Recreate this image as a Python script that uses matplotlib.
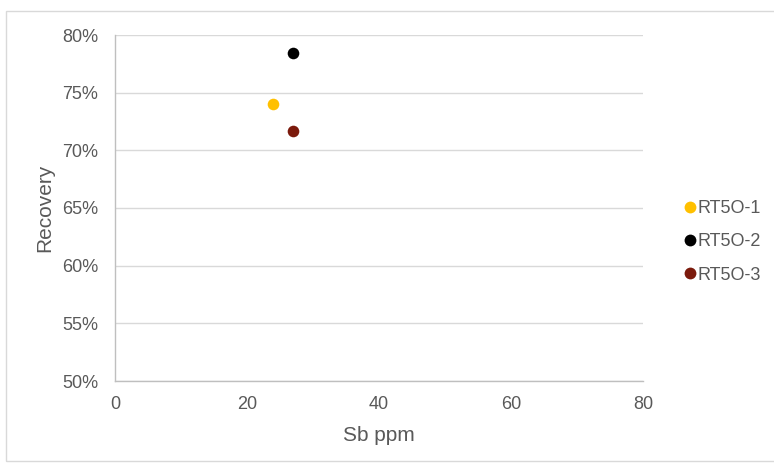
import matplotlib.pyplot as plt
from matplotlib.lines import Line2D
from matplotlib.patches import Rectangle
from matplotlib.ticker import PercentFormatter

# --- data ---
names = ["RT5O-1", "RT5O-2", "RT5O-3"]
sb_ppm = [24, 27, 27]
recovery = [0.740, 0.784, 0.717]
colors = ["#FFC000", "#000000", "#7B1A0C"]

plt.rcParams["font.family"] = ["Liberation Sans", "DejaVu Sans"]
txt = "#595959"
grid = "#D9D9D9"

fig = plt.figure(figsize=(7.74, 4.63), dpi=100)
ax = fig.add_axes([115 / 774, 1 - 381 / 463, (643 - 115) / 774, (381 - 35) / 463])

for n, x, y, c in zip(names, sb_ppm, recovery, colors):
    ax.scatter(x, y, s=70, color=c, zorder=3, linewidths=0, label=n)

ax.set_xlim(0, 80)
ax.set_ylim(0.5, 0.8)
ax.set_xticks([0, 20, 40, 60, 80])
ax.set_yticks([0.5, 0.55, 0.6, 0.65, 0.7, 0.75, 0.8])
ax.yaxis.set_major_formatter(PercentFormatter(1.0, decimals=0))
ax.grid(axis="y", color=grid, linewidth=1)
ax.set_axisbelow(True)

for s in ["top", "right"]:
    ax.spines[s].set_visible(False)
for s in ["left", "bottom"]:
    ax.spines[s].set_color("#BFBFBF")
    ax.spines[s].set_linewidth(1)

ax.tick_params(length=0, labelsize=13, colors=txt)
ax.tick_params(axis="x", pad=11)
ax.tick_params(axis="y", pad=12)
ax.set_xlabel("Sb ppm", fontsize=15, color=txt, labelpad=9)
ax.set_ylabel("Recovery", fontsize=15, color=txt, labelpad=6)

# legend
handles = [Line2D([], [], marker="o", linestyle="", markersize=8.5,
                  markerfacecolor=c, markeredgewidth=0) for c in colors]
fig.legend(handles, names, loc="center left", bbox_to_anchor=(676 / 774, 1 - 242 / 463),
           frameon=False, fontsize=13, labelcolor=txt, handlelength=0.5,
           handletextpad=0.2, labelspacing=0.9, borderpad=0)

# outer chart border
fig.add_artist(Rectangle((6 / 774, 1 - 461 / 463), 1.2, (461 - 11) / 463,
                         transform=fig.transFigure, fill=False,
                         edgecolor="#D9D9D9", linewidth=1))

fig.savefig("out.png", dpi=100)
